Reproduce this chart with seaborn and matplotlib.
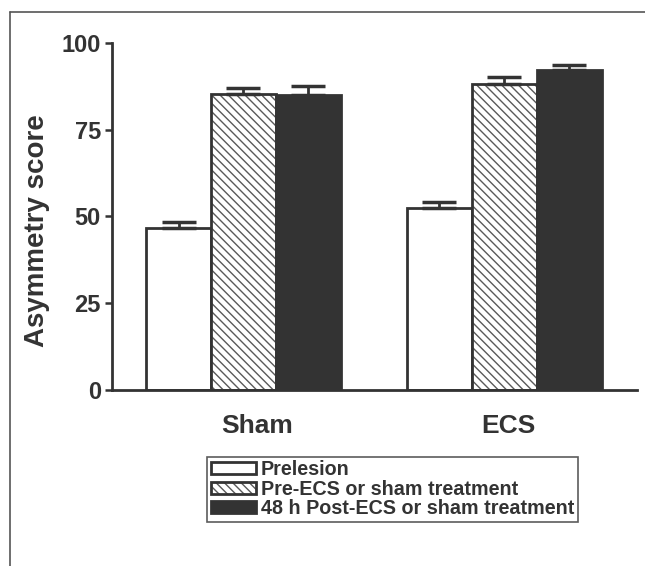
# plot.py
# Asymmetry score bar chart (Sham vs ECS)

import seaborn as sns
import matplotlib.pyplot as plt
import matplotlib.colors as mcolors
import matplotlib.transforms as mtransforms
import pandas as pd
from matplotlib.lines import Line2D

# data
groups = ["Sham", "ECS"]
conditions = ["Prelesion", "Pre-ECS or sham treatment", "48 h Post-ECS or sham treatment"]
prelesion = [46.6, 52.5]
pre_ecs = [85.4, 88.2]
post_ecs = [85.0, 92.1]
prelesion_err = [1.9, 1.8]
pre_ecs_err = [1.5, 2.0]
post_ecs_err = [2.7, 1.6]
yticks = [0, 25, 50, 75, 100]

dark = "#333333"


def plot_asymmetry():
    """ Grouped bars with upward SEM bars """
    rows = []
    for vals, cond in zip([prelesion, pre_ecs, post_ecs], conditions):
        for g, v in zip(groups, vals):
            rows.append({"group": g, "condition": cond, "score": v})
    df = pd.DataFrame(rows)

    sns.set_style("white")
    plt.rcParams['font.family'] = ['Liberation Sans', 'DejaVu Sans']
    plt.rcParams['font.weight'] = 'bold'
    plt.rcParams['hatch.linewidth'] = 1.0

    fig = plt.figure(figsize=(6.45, 5.66), dpi=100)
    ax = fig.add_axes([0.1736, 0.311, 0.814, 0.613])

    sns.barplot(data=df, x="group", y="score", hue="condition", order=groups,
                hue_order=conditions, palette=["white", "white", dark],
                edgecolor=dark, linewidth=2, width=0.747, errorbar=None, ax=ax)

    for bar in ax.containers[1]:
        bar.set_hatch("\\\\\\\\")
        if hasattr(bar, "set_hatchcolor"):
            bar.set_hatchcolor("#5a5a5a")
        else:
            bar._hatch_color = mcolors.to_rgba("#5a5a5a")

    errs = [prelesion_err, pre_ecs_err, post_ecs_err]
    for cont, vals, err in zip(ax.containers, [prelesion, pre_ecs, post_ecs], errs):
        xs = [b.get_x() + b.get_width() / 2 for b in cont]
        ax.errorbar(xs, vals, yerr=[[0] * len(err), err], fmt="none",
                    ecolor=dark, elinewidth=2, capsize=12, capthick=2.5, zorder=1)

    ax.set_ylim(0, 100)
    ax.set_xlim(-0.504, 1.508)
    ax.set_yticks(yticks)
    ax.set_xlabel("")
    ax.set_ylabel("Asymmetry score", fontsize=20, fontweight="bold", color=dark)
    ax.yaxis.set_label_coords(-0.118, 0.458)
    sns.despine(ax=ax)
    for s in ["left", "bottom"]:
        ax.spines[s].set_linewidth(2)
        ax.spines[s].set_color(dark)
    ax.tick_params(axis="y", left=True, length=5, width=1.8, color=dark, pad=3,
                   labelsize=17, labelcolor=dark)
    ax.tick_params(axis="x", bottom=False, pad=14, labelsize=19, labelcolor=dark)
    # labels in the original sit a bit right of the group centres
    for lab, dx in zip(ax.get_xticklabels(), [14, 4]):
        lab.set_transform(lab.get_transform() +
                          mtransforms.ScaledTranslation(dx / 100, 0, fig.dpi_scale_trans))

    ax.get_legend().remove()
    handles = [c[0] for c in ax.containers]
    leg = fig.legend(handles, conditions, loc="upper left", bbox_to_anchor=(0.321, 0.193),
                     frameon=True, fancybox=False, fontsize=14.2, handlelength=2.3,
                     handleheight=0.55, handletextpad=0.25, labelspacing=0.02,
                     borderpad=0.18, borderaxespad=0)
    leg.get_frame().set_edgecolor(dark)
    leg.get_frame().set_linewidth(1.2)
    for t in leg.get_texts():
        t.set_color(dark)

    # outer frame (top and left visible)
    fig.add_artist(Line2D([10 / 645, 1.0], [1 - 12 / 566] * 2, color="#555555", lw=1.2))
    fig.add_artist(Line2D([10 / 645] * 2, [0, 1 - 12 / 566], color="#555555", lw=1.2))

    fig.savefig("out.png", dpi=100)


if __name__ == "__main__":
    plot_asymmetry()
